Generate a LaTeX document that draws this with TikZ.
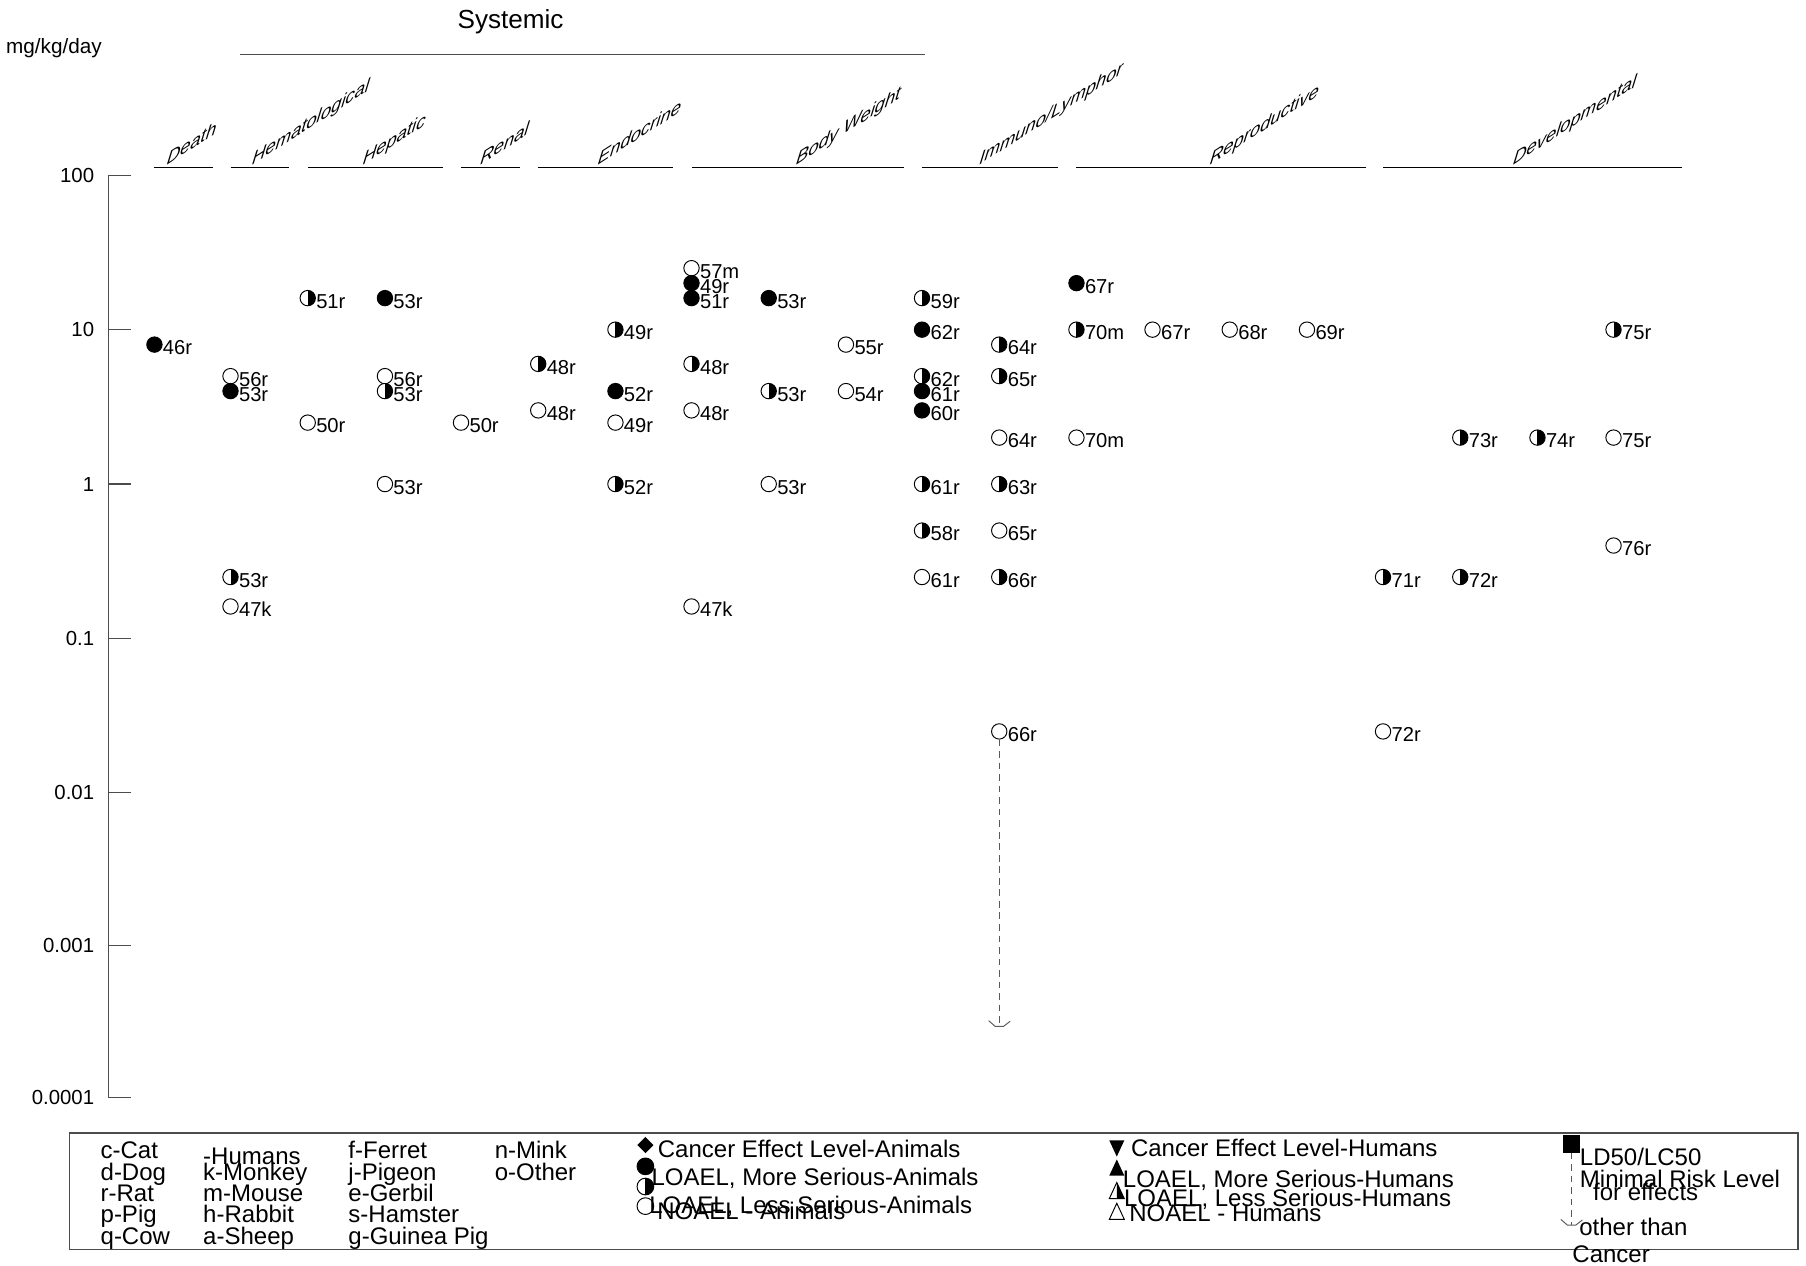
\documentclass[tikz,border=0pt]{standalone}
\usepackage{fontspec}
\setmainfont{Liberation Sans}
\begin{document}
\begin{tikzpicture}[x=0.6pt,y=-0.6pt,
    declare function={ldose(\v)=153+134*(2-log10(\v));},
    axis/.style={gray!60!black,line width=0.6pt},
    seg/.style={black,line width=0.6pt},
    mrl/.style={gray!70!black,line width=0.5pt,dash pattern=on 3.5pt off 2.5pt},
    hook/.style={gray!70!black,line width=0.5pt},
    openpt/.style={circle,draw,fill=white,line width=0.5pt,minimum size=8pt,inner sep=0pt},
    fullpt/.style={openpt,fill=black},
    halfpt/.style={openpt,path picture={\fill[black] (path picture bounding box.north) rectangle (path picture bounding box.south east);}},
    bigpt/.style={minimum size=8.7pt},
    ptlabel/.style={anchor=base west,inner sep=0pt,font=\fontsize{10.5}{12}\selectfont,yshift=-5.3pt},
    axlabel/.style={anchor=east,inner sep=0pt,font=\fontsize{10.6}{12}\selectfont},
    cat/.style={anchor=base west,inner sep=0pt,cm={1,0.64,0.15,1,(0pt,0pt)},font=\fontsize{9.6}{11}\selectfont\itshape},
    legtext/.style={anchor=base west,inner sep=0pt,font=\fontsize{12.5}{14}\selectfont}]
  \useasboundingbox (2,1) rectangle (1569,1099);
  \node[font=\fontsize{13.6}{16}\selectfont] (sys) at (445,20) {Systemic};
  \draw[axis] (210,48) -- (805,48);
  \node[anchor=west,inner sep=0pt,font=\fontsize{10.8}{12}\selectfont] (unit) at (7,43) {mg/kg/day};
  \foreach \a/\b in {136/187,202/253,269/386,402/453,469/586,602/786,802/920,936/1187,1202/1461}
    \draw[seg] (\a,146.5) -- (\b,146.5);
  \foreach \x/\t [count=\i] in {146/Death,220/Hematological,316/Hepatic,418/Renal,520/Endocrine,692/Body Weight,851/{Immuno/Lymphor},1051/Reproductive,1314/Developmental}
    \node[cat] (c\i) at (\x,144.5) {\t};
  \draw[axis] (96,{ldose(100)}) -- (96,{ldose(0.0001)});
  \foreach \v [count=\i] in {100,10,1,0.1,0.01,0.001,0.0001} {
    \draw[axis] (96,{ldose(\v)}) -- (116,{ldose(\v)});
    \node[axlabel] (ax\i) at (84,{ldose(\v)}) {\v};
  }
  \foreach \x/\v/\s/\t [count=\i] in {136/8/fullpt/46r,
      202/5/openpt/56r,202/4/fullpt/53r,202/0.25/halfpt/53r,202/0.16/openpt/47k,
      269/16/halfpt/51r,269/2.5/openpt/50r,
      336/16/fullpt/53r,336/5/openpt/56r,336/4/halfpt/53r,336/1/openpt/53r,
      402/2.5/openpt/50r,
      469/6/halfpt/48r,469/3/openpt/48r,
      536/10/halfpt/49r,536/4/fullpt/52r,536/2.5/openpt/49r,536/1/halfpt/52r,
      602/25/openpt/57m,602/20/fullpt/49r,602/16/fullpt/51r,602/6/halfpt/48r,602/3/openpt/48r,602/0.16/openpt/47k,
      669/16/fullpt/53r,669/4/halfpt/53r,669/1/openpt/53r,
      736/8/openpt/55r,736/4/openpt/54r,
      802/16/halfpt/59r,802/10/fullpt/62r,802/5/halfpt/62r,802/4/fullpt/61r,802/3/fullpt/60r,802/1/halfpt/61r,802/0.5/halfpt/58r,802/0.25/openpt/61r,
      869/8/halfpt/64r,869/5/halfpt/65r,869/2/openpt/64r,869/1/halfpt/63r,869/0.5/openpt/65r,869/0.25/halfpt/66r,
      936/20/fullpt/67r,936/10/halfpt/70m,936/2/openpt/70m,
      1002/10/openpt/67r,1069/10/openpt/68r,1136/10/openpt/69r,
      1202/0.25/halfpt/71r,
      1269/2/halfpt/73r,1269/0.25/halfpt/72r,
      1336/2/halfpt/74r,
      1402/10/halfpt/75r,1402/2/openpt/75r,1402/0.4/openpt/76r} {
    \node[\s] (m\i) at (\x,{ldose(\v)}) {};
    \node[ptlabel] (t\i) at (m\i.east) {\t};
  }
  \node[openpt] (mrl66) at (869,{ldose(0.025)}) {};
  \node[ptlabel] (tmrl66) at (mrl66.east) {66r};
  \node[openpt] (dev72) at (1202,{ldose(0.025)}) {};
  \node[ptlabel] (tdev72) at (dev72.east) {72r};
  \coordinate (mrlend) at (869,{ldose(0.0003)});
  \draw[mrl] (mrl66.south) -- (mrlend);
  \draw[hook] (mrlend) ++(-9.2,-5) -- ++(5.7,5) -- ++(7.2,0) -- ++(5.8,-4.5);
  \draw[axis] (62,984) rectangle (1562,1085);
  \foreach \t/\y [count=\i] in {c-Cat/1006.5,d-Dog/1025,r-Rat/1043.5,p-Pig/1062,q-Cow/1080.5}
    \node[legtext] (sa\i) at (89,\y) {\t};
  \foreach \t/\y [count=\i] in {-Humans/1011.5,k-Monkey/1025,m-Mouse/1043.5,h-Rabbit/1062,a-Sheep/1080.5}
    \node[legtext] (sb\i) at (178,\y) {\t};
  \foreach \t/\y [count=\i] in {f-Ferret/1006.5,j-Pigeon/1025,e-Gerbil/1043.5,s-Hamster/1062,g-Guinea Pig/1080.5}
    \node[legtext] (sc\i) at (304,\y) {\t};
  \foreach \t/\y [count=\i] in {n-Mink/1006.5,o-Other/1025}
    \node[legtext] (sd\i) at (431,\y) {\t};
  \fill (562,987.5) -- (569,994.5) -- (562,1001.5) -- (555,994.5) -- cycle;
  \node[fullpt,bigpt] (lgfull) at (562,1013) {};
  \node[halfpt,bigpt] (lghalf) at (562,1030.5) {};
  \node[openpt,bigpt] (lgopen) at (562,1047.5) {};
  \node[legtext] (la1) at (572.5,1005) {Cancer Effect Level-Animals};
  \node[legtext] (la2) at (567,1029.5) {LOAEL, More Serious-Animals};
  \node[legtext] (la3) at (565,1054) {LOAEL, Less Serious-Animals};
  \node[legtext] (la4) at (572,1059) {NOAEL - Animals};
  \fill (964.5,990.5) -- (977.5,990.5) -- (971,1004.5) -- cycle;
  \fill (971,1007) -- (977.5,1021) -- (964.5,1021) -- cycle;
  \fill (971,1027) -- (977.5,1041) -- (971,1041) -- cycle;
  \draw[line width=0.5pt] (971,1027) -- (977.5,1041) -- (964.5,1041) -- cycle;
  \draw[line width=0.5pt] (971,1045) -- (977.5,1059) -- (964.5,1059) -- cycle;
  \node[legtext] (lh1) at (983,1004.5) {Cancer Effect Level-Humans};
  \node[legtext] (lh2) at (976,1031) {LOAEL, More Serious-Humans};
  \node[legtext] (lh3) at (977,1047.5) {LOAEL, Less Serious-Humans};
  \node[legtext] (lh4) at (981.5,1061) {NOAEL - Humans};
  \fill (1358,986) rectangle (1373,1001);
  \coordinate (lgtop) at (1365.5,1001);
  \coordinate (lgend) at (1365.5,1064);
  \draw[mrl] (lgtop) -- (lgend);
  \draw[hook] (lgend) ++(-9.2,-5) -- ++(5.7,5) -- ++(7.2,0) -- ++(5.8,-4.5);
  \node[legtext] (lr1) at (1372.5,1012.5) {LD50/LC50};
  \node[legtext] (lr2) at (1372.5,1031) {Minimal Risk Level};
  \node[legtext] (lr3) at (1384,1042.5) {for effects};
  \node[legtext] (lr4) at (1372,1073) {other than};
  \node[legtext] (lr5) at (1366,1096.5) {Cancer};
\end{tikzpicture}
\end{document}
